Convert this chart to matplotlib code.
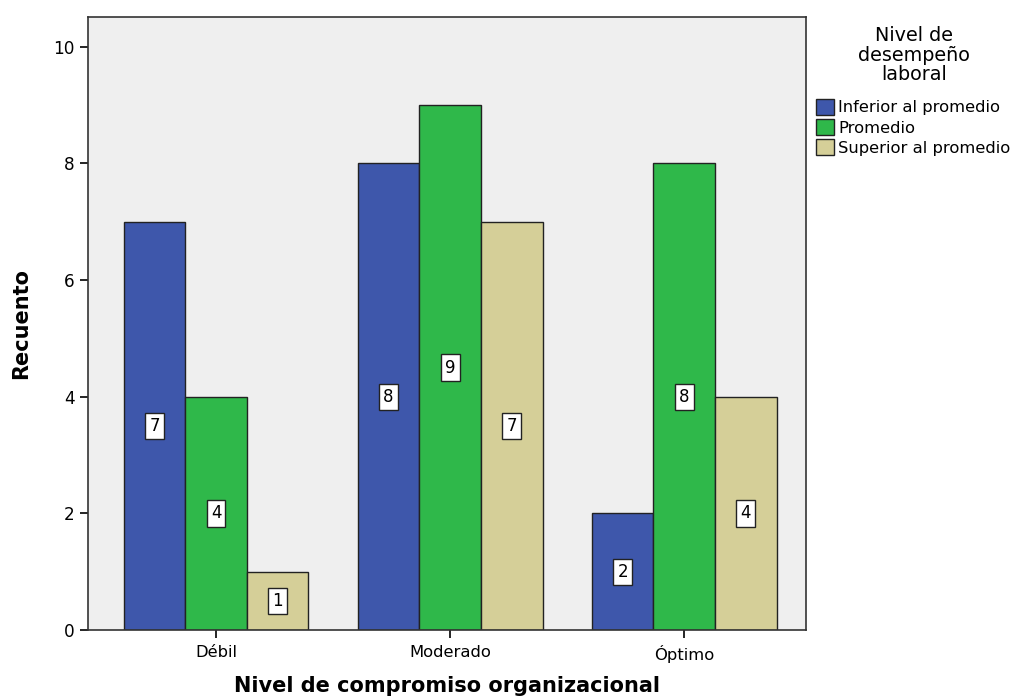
import matplotlib.pyplot as plt
import numpy as np
from matplotlib.patches import Patch

plt.rcParams['font.family'] = ['DejaVu Sans']

categorias = ['Débil', 'Moderado', 'Óptimo']
niveles = ['Inferior al promedio', 'Promedio', 'Superior al promedio']
inferior = [7, 8, 2]
promedio = [4, 9, 8]
superior = [1, 7, 4]
colores = ['#3e57ab', '#2fb84a', '#d5cf98']

fig = plt.figure(figsize=(10.16, 6.99), dpi=100)
ax = fig.add_axes([0.0866, 0.0987, 0.7067, 0.877])
ax.set_facecolor('#efefef')

x = np.arange(len(categorias))
ancho = 0.263
for i, (serie, color) in enumerate(zip([inferior, promedio, superior], colores)):
    pos = x + (i - 1) * ancho
    ax.bar(pos, serie, width=ancho, color=color, edgecolor='#222222', linewidth=1.0, zorder=2)
    for p, v in zip(pos, serie):
        ax.text(p, v / 2, str(v), ha='center', va='center', fontsize=12, zorder=3,
                bbox=dict(boxstyle='square,pad=0.25', facecolor='white', edgecolor='#222222', linewidth=1.0))

ax.set_xlim(-0.547, 2.52)
ax.set_ylim(0, 10.51)
ax.set_xticks(x)
ax.set_xticklabels(categorias, fontsize=11.8)
ax.set_yticks([0, 2, 4, 6, 8, 10])
ax.tick_params(axis='y', labelsize=12.2, length=6, width=1.2)
ax.tick_params(axis='x', length=6, width=1.2, pad=5)
for s in ax.spines.values():
    s.set_linewidth(1.2)
    s.set_color('#333333')

ax.set_xlabel('Nivel de compromiso organizacional', fontsize=15, fontweight='bold', labelpad=9)
ax.set_ylabel('Recuento', fontsize=15, fontweight='bold', labelpad=16)

fig.text(0.9, 0.921, 'Nivel de\ndesempeño\nlaboral', ha='center', va='center', fontsize=13.8, linespacing=1.05)
handles = [Patch(facecolor=c, edgecolor='#222222', linewidth=1.0) for c in colores]
fig.legend(handles, niveles, loc='upper left', bbox_to_anchor=(0.803, 0.859), frameon=False,
           fontsize=11.8, handlelength=1.1, handleheight=1.15, handletextpad=0.25, labelspacing=0.22,
           borderaxespad=0, borderpad=0)

plt.savefig('out.png', dpi=100)
